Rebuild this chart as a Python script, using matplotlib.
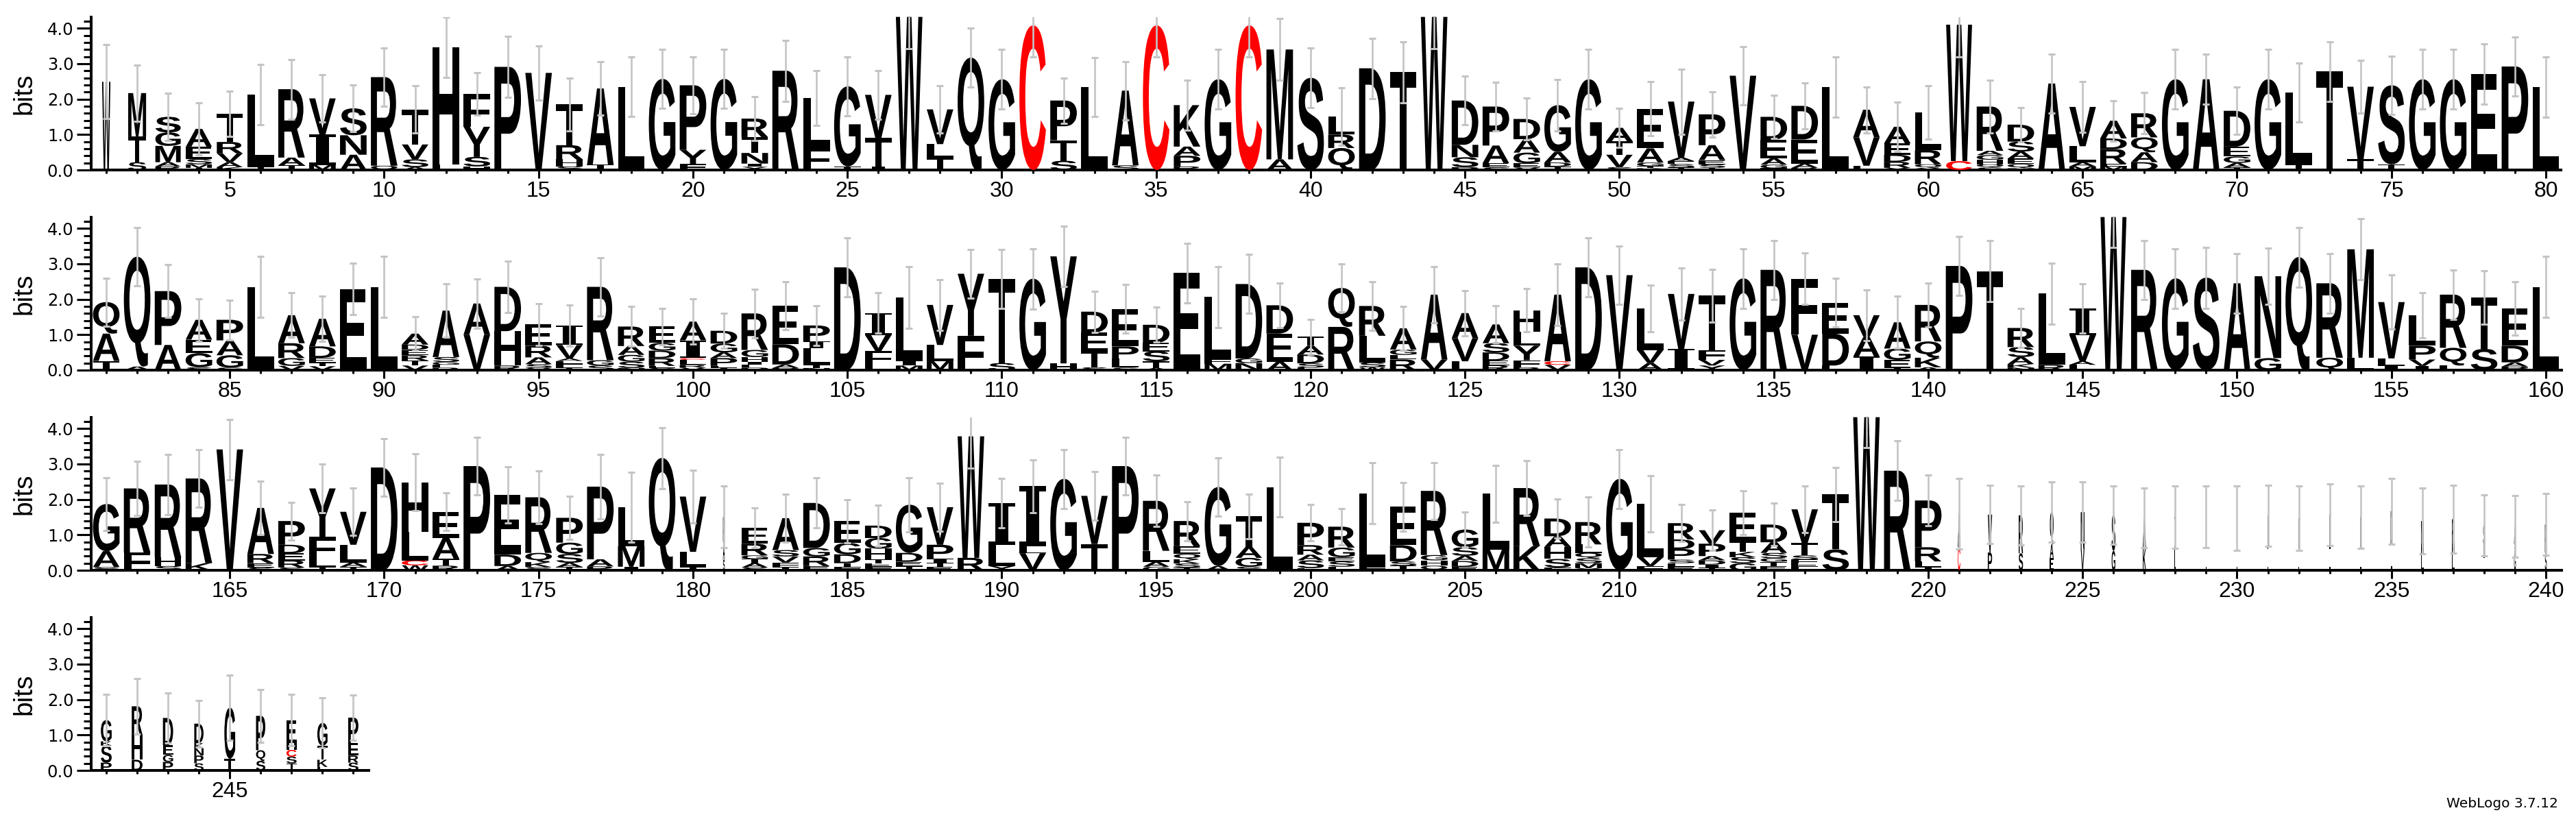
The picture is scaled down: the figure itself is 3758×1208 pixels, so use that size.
import matplotlib
matplotlib.use("Agg")
import matplotlib.pyplot as plt
import numpy as np
from matplotlib.textpath import TextPath
from matplotlib.patches import PathPatch
from matplotlib.font_manager import FontProperties
from matplotlib.transforms import Affine2D

# ---------------- data (letters bottom->top, heights in bits) ----------------
row_starts = [1, 81, 161, 241]
row_ends = [80, 160, 240, 249]

letters_r1 = ["W","STM","RAMGS","TMSEA","KAVRT","TL","TAR","MIV","ANS","QR",
              "ASVT","LH","HSYF","P","V","SHRT","TA","L","G","FYP",
              "G","YINTR","R","FL","TG","ITV","W","TLV","Q","G",
              "C","STP","L","SA","C","RPAK","G","C","AM","S",
              "QRL","D","T","W","PSND","SEAP","VEGAD","TDAG","G","SVTA",
              "KTGAE","TSEAV","TSEAP","V","TGAED","RAED","L","LVA","YRDEA","YQRL",
              "CW","SQHGAR","NQEASD","A","MALV","MERDA","DAQR","G","A","TAGED",
              "G","TL","T","TV","TS","G","G","E","P","L"]
heights_r1 = [[2.49],[0.22,0.73,1.22],[0.1,0.12,0.46,0.38,0.44],[0.06,0.1,0.15,0.35,0.5],[0.08,0.14,0.25,0.32,0.8],[0.1,2.02],[0.13,0.22,1.93],[0.14,0.86,1.02],[0.43,0.55,0.76],[0.12,2.5],
              [0.08,0.22,0.42,0.99],[0.15,3.32],[0.1,0.27,0.85,0.92],[2.91],[2.74],[0.1,0.2,0.4,1.15],[0.15,2.15],[2.35],[2.57],[0.17,0.4,1.82],
              [2.57],[0.09,0.09,0.3,0.45,0.52],[2.8],[0.62,1.41],[0.1,2.26],[0.1,0.8,1.22],[4.32],[0.35,0.38,0.98],[3.17],[2.56],
              [4.08],[0.26,0.58,1.12],[2.34],[0.13,2.11],[4.08],[0.1,0.3,0.26,1.17],[2.56],[4.08],[0.3,3.1],[2.6],
              [0.62,0.38,0.51],[2.87],[2.76],[4.32],[0.08,0.28,0.35,1.25],[0.07,0.12,0.5,1.1],[0.07,0.12,0.3,0.38,0.57],[0.1,0.11,0.3,1.32],[2.56],[0.08,0.35,0.38,0.38],
              [0.05,0.06,0.1,0.4,1.12],[0.07,0.1,0.08,0.1,1.58],[0.06,0.1,0.12,0.42,0.87],[2.66],[0.05,0.1,0.18,0.52,0.65],[0.06,0.12,0.68,0.95],[2.34],[0.12,0.8,0.78],[0.06,0.17,0.2,0.32,0.47],[0.06,0.1,0.4,1.06],
              [0.25,3.85],[0.07,0.09,0.13,0.13,0.12,1.25],[0.05,0.12,0.15,0.2,0.28,0.48],[2.44],[0.1,0.12,0.45,1.11],[0.1,0.07,0.42,0.3,0.5],[0.22,0.28,0.42,0.68],[2.56],[2.56],[0.07,0.13,0.18,0.28,1.01],
              [2.56],[0.15,2.03],[2.78],[0.3,2.05],[0.16,2.23],[2.56],[2.56],[2.71],[2.92],[2.34]]
err_top_r1 = [3.53,2.96,2.16,1.89,2.23,2.97,3.12,2.68,2.4,3.45,
              2.37,4.32,2.74,3.77,3.5,2.59,3.06,3.19,3.4,3.19,
              3.4,2.06,3.66,2.8,3.19,2.8,5.21,2.37,4.0,3.4,
              4.96,2.6,3.17,3.06,4.96,2.54,3.4,4.96,4.27,3.44,
              2.33,3.72,3.62,5.21,2.65,2.48,2.03,2.56,3.4,1.75,
              2.5,2.85,2.21,3.49,2.11,2.45,3.19,2.35,1.92,2.37,
              5.0,2.54,1.76,3.27,2.5,1.96,2.18,3.4,3.27,2.34,
              3.4,3.01,3.62,3.1,3.22,3.4,3.4,3.56,3.76,3.19]

letters_r2 = ["TAQ","AQ","AP","SGEA","SGAP","L","VGRA","VTEDA","E","L",
              "VTREDA","RLGSA","VA","RHD","VSARE","TFLAVI","SGR","NSGAR","SLRDGE","VRLCIA",
              "TLPAGD","PLIHGR","PADE","NTLIP","D","LFVI","MIL","MLV","FY","ST",
              "G","HY","STED","SLPE","ATSED","E","MFL","NGD","AED","LSDAT",
              "RQ","WSLR","RLGA","VA","LVA","REDSA","RFYLH","VCA","D","V",
              "AVL","IV","YVFT","G","R","VF","LDE","IAV","TEGA","AKQR",
              "P","T","NKASR","RL","LAVI","W","R","G","S","A",
              "GN","Q","QR","LM","ILV","IVPL","LQR","ST","PADE","L"]
heights_r2 = [[0.26,0.77,0.89],[0.1,3.1],[0.71,1.52],[0.08,0.4,0.38,0.56],[0.07,0.35,0.42,0.58],[2.35],[0.12,0.22,0.42,0.79],[0.11,0.09,0.15,0.32,0.78],[2.29],[2.35],
              [0.13,0.14,0.15,0.15,0.15,0.31],[0.07,0.08,0.08,0.14,1.31],[1.0,0.88],[0.13,0.97,1.25],[0.06,0.11,0.19,0.33,0.6],[0.07,0.1,0.09,0.07,0.38,0.55],[0.13,0.15,2.07],[0.06,0.18,0.19,0.25,0.55],[0.06,0.06,0.22,0.21,0.22,0.46],[0.07,0.08,0.14,0.05,0.5,0.53],
              [0.06,0.06,0.22,0.16,0.25,0.36],[0.07,0.08,0.08,0.14,0.2,1.03],[0.06,0.1,0.57,1.09],[0.06,0.1,0.45,0.2,0.45],[2.9],[0.14,0.4,0.45,0.62],[0.13,0.14,1.78],[0.25,0.46,1.13],[0.97,1.75],[0.2,2.38],
              [2.58],[0.19,3.02],[0.08,0.45,0.53,0.59],[0.07,0.25,0.35,1.06],[0.06,0.19,0.28,0.24,0.51],[2.74],[0.18,0.12,1.76],[0.2,0.13,2.1],[0.24,0.79,0.8],[0.07,0.12,0.25,0.25,0.25],
              [1.22,1.1],[0.08,0.14,0.75,0.84],[0.3,0.13,0.15,0.6],[0.3,1.83],[0.25,0.65,0.71],[0.14,0.13,0.23,0.26,0.53],[0.08,0.2,0.41,0.4,0.6],[0.15,0.1,1.88],[2.9],[2.68],
              [0.2,0.37,1.17],[0.6,1.55],[0.13,0.16,0.28,1.53],[2.59],[2.83],[1.0,1.58],[0.13,0.9,0.87],[0.38,0.55,0.62],[0.07,0.22,0.32,0.74],[0.08,0.27,0.46,1.03],
              [2.94],[2.79],[0.07,0.1,0.2,0.28,0.54],[0.15,2.01],[0.15,0.1,0.74,0.75],[4.32],[2.83],[2.59],[2.61],[2.45],
              [0.34,2.31],[3.19],[0.35,2.1],[0.35,3.06],[0.13,0.2,1.59],[0.12,0.18,0.39,0.86],[0.13,0.5,1.5],[0.6,1.45],[0.1,0.12,0.47,1.05],[2.35]]
err_top_r2 = [2.6,4.03,2.97,2.02,1.98,3.21,2.18,2.08,3.02,3.21,
              1.5,2.44,2.58,3.08,1.88,1.84,3.17,1.79,1.75,2.01,
              1.61,2.29,2.5,1.82,3.73,2.18,2.92,2.55,3.41,3.41,
              3.43,4.06,2.23,2.42,1.77,3.58,2.92,3.26,2.46,1.43,
              3.0,2.5,1.79,2.92,2.25,1.81,2.3,3.0,3.73,3.5,
              2.4,2.89,2.84,3.43,3.66,3.31,2.59,2.27,2.08,2.46,
              3.77,3.65,1.74,3.02,2.43,5.17,3.66,3.43,3.47,3.29,
              3.45,4.03,3.29,4.27,2.68,2.19,2.83,2.8,2.5,3.21]

letters_r3 = ["SAG","FR","SHR","KR","V","SERA","SREDP","TLFY","TALV","D",
              "WCLH","RTAE","P","ADE","SKQR","TASGP","RAP","IML","Q","TLV",
              "SAP","SATGRE","TFVSA","ERGD","FTDGE","FETHGD","TEDG","ETIPV","RW","YLI",
              "VLI","G","TV","P","GALR","TSKQER","AG","SGAT","L","LSARP",
              "LSEGR","FL","TSDE","QHGR","EDASG","ML","KR","FSHAD","YMSQLR","G",
              "FVL","ELSPDR","TIDAPV","GSKTE","ETGSAD","LEFSTV","ST","W","R","TLRP",
              "CA","PV","SR","EAQ","VN","GS","KA","LI","LI","LI",
              "LI","LI","LI","LI","LD","LHM","LHR","TIS","GEA","SR"]
heights_r3 = [[0.09,0.45,1.33],[0.5,1.81],[0.12,0.24,2.06],[0.2,2.39],[3.41],[0.08,0.12,0.26,1.3],[0.08,0.2,0.2,0.24,0.67],[0.1,0.2,0.64,1.37],[0.1,0.12,0.5,0.93],[2.9],
              [0.14,0.14,0.8,1.4],[0.13,0.2,0.58,0.74],[2.94],[0.12,0.32,1.69],[0.09,0.14,0.26,1.57],[0.09,0.12,0.25,0.32,0.7],[0.11,0.2,2.05],[0.1,0.58,1.1],[3.17],[0.1,0.42,1.56],
              [0.3,0.5,0.7],[0.08,0.12,0.12,0.1,0.33,0.45],[0.1,0.12,0.17,0.18,0.9],[0.12,0.27,0.24,1.27],[0.1,0.1,0.25,0.32,0.62],[0.1,0.1,0.11,0.3,0.3,0.35],[0.12,0.12,0.25,1.36],[0.1,0.1,0.12,0.4,1.06],[0.35,3.43],[0.12,0.6,1.18],
              [0.48,0.2,1.69],[2.58],[0.74,1.36],[2.94],[0.1,0.14,0.31,1.41],[0.08,0.11,0.12,0.15,0.22,0.71],[0.12,2.23],[0.1,0.25,0.31,0.86],[2.35],[0.06,0.22,0.16,0.27,0.63],
              [0.1,0.15,0.12,0.27,0.59],[0.1,2.07],[0.13,0.12,0.46,1.08],[0.13,0.15,0.15,1.81],[0.1,0.16,0.15,0.24,0.5],[0.58,1.58],[0.68,1.64],[0.08,0.24,0.34,0.3,0.5],[0.06,0.14,0.14,0.15,0.24,0.63],[2.58],
              [0.12,0.25,1.5],[0.1,0.1,0.1,0.3,0.27,0.46],[0.08,0.08,0.12,0.12,0.35,0.38],[0.2,0.17,0.15,0.3,0.8],[0.12,0.12,0.1,0.15,0.3,0.5],[0.1,0.1,0.1,0.12,0.35,0.95],[0.59,1.55],[4.32],[2.81],[0.1,0.15,0.4,1.32],
              [0.65,0.95],[0.5,1.07],[0.48,1.07],[0.35,0.38,0.92],[0.6,1.04],[0.55,1.01],[0.62,0.86],[0.6,0.9],[0.6,0.9],[0.6,0.87],
              [0.6,0.94],[0.6,0.87],[0.6,0.96],[0.6,0.9],[0.7,0.97],[0.45,0.3,0.64],[0.45,0.3,0.69],[0.42,0.3,0.55],[0.5,0.25,0.48],[0.5,0.79]]
err_top_r3 = [2.61,3.07,3.27,3.41,4.26,2.51,1.92,2.99,2.32,3.72,
              3.28,2.18,3.75,2.93,2.81,2.09,3.27,2.77,4.03,2.83,
              2.37,1.76,2.15,2.61,2.0,1.84,2.61,2.45,4.68,2.6,
              3.12,3.41,2.79,3.75,2.69,1.94,3.17,2.15,3.2,1.85,
              1.74,3.03,2.48,3.04,1.65,2.96,3.09,2.02,2.06,3.41,
              2.66,1.85,1.7,2.24,1.89,2.37,2.9,5.17,3.65,2.69,
              2.6,2.39,2.38,2.5,2.49,2.38,2.33,2.38,2.37,2.37,
              2.4,2.37,2.43,2.38,2.6,2.32,2.39,2.13,2.1,2.16]

letters_r4 = ["PSKG","DHR","PGED","SPNKD","TG","SQP","TSCHE","LKTG","SREP"]
heights_r4 = [[0.22,0.48,0.12,0.6],[0.3,0.7,0.81],[0.24,0.2,0.27,0.77],[0.2,0.22,0.2,0.15,0.55],
              [0.33,1.44],[0.27,0.3,0.97],[0.2,0.19,0.19,0.19,0.65],[0.1,0.2,0.4,0.64],[0.22,0.2,0.35,0.72]]
err_top_r4 = [2.15,2.6,2.18,1.98,2.69,2.28,2.15,2.05,2.13]

# stack width as a fraction of the column (columns with gaps are narrower)
default_width = 0.86
stack_width = {1: 0.27, 2: 0.58, 3: 0.82, 4: 0.84, 5: 0.84, 61: 0.84, 146: 0.84,
               181: 0.06, 221: 0.08, 222: 0.14, 223: 0.14, 224: 0.12, 225: 0.12,
               226: 0.12, 227: 0.10, 228: 0.04, 229: 0.04, 230: 0.04, 231: 0.04,
               232: 0.04, 233: 0.04, 234: 0.04, 235: 0.05, 236: 0.08, 237: 0.08,
               238: 0.06, 239: 0.06, 240: 0.06, 241: 0.35, 242: 0.35, 243: 0.33,
               244: 0.30, 245: 0.35, 246: 0.30, 247: 0.33, 248: 0.33, 249: 0.33}

letters_rows = [letters_r1, letters_r2, letters_r3, letters_r4]
heights_rows = [heights_r1, heights_r2, heights_r3, heights_r4]
errtop_rows = [err_top_r1, err_top_r2, err_top_r3, err_top_r4]

# ---------------- layout ----------------
W_PX, H_PX, DPI = 3758, 1208, 100
COL_PX = 45.05
LEFT_PX = 132.5
BASELINES_PX = [248, 540, 832, 1124]   # from top
YMAX = 4.32
AX_H_PX = YMAX * 51.7

fig = plt.figure(figsize=(W_PX / DPI, H_PX / DPI), dpi=DPI)
fig.patch.set_facecolor("white")

fp_logo = FontProperties(family=["Liberation Sans", "DejaVu Sans"], weight="bold")
fp_serif = FontProperties(family=["DejaVu Serif"], weight="bold")
_cache = {}


def glyph(ch):
    if ch not in _cache:
        prop = fp_serif if ch == "I" else fp_logo
        p = TextPath((0, 0), ch, size=1, prop=prop)
        _cache[ch] = (p, p.get_extents())
    return _cache[ch]


def draw_letter(ax, ch, xc, y0, w, h):
    p, ext = glyph(ch)
    t = (Affine2D().translate(-ext.x0, -ext.y0)
         .scale(w / ext.width, h / ext.height)
         .translate(xc - w / 2.0, y0))
    color = "#ff0000" if ch == "C" else "black"
    ax.add_patch(PathPatch(t.transform_path(p), facecolor=color, edgecolor="none",
                           lw=0, zorder=3, clip_on=False))


for r in range(4):
    s, e = row_starts[r], row_ends[r]
    n = e - s + 1
    left = LEFT_PX / W_PX
    width = n * COL_PX / W_PX
    bottom = (H_PX - BASELINES_PX[r]) / H_PX
    height = AX_H_PX / H_PX
    ax = fig.add_axes([left, bottom, width, height])
    ax.set_xlim(s - 0.5, e + 0.5)
    ax.set_ylim(0, YMAX)
    ax.set_facecolor("none")

    positions = np.arange(s, e + 1)
    totals = []
    for i, pos in enumerate(positions):
        lets = letters_rows[r][i]
        hs = heights_rows[r][i]
        w = stack_width.get(int(pos), default_width)
        y = 0.0
        for ch, h in zip(lets, hs):
            draw_letter(ax, ch, pos, y, w, h)
            y += h
        totals.append(y)
    totals = np.array(totals)
    errs = np.maximum(np.array(errtop_rows[r]) - totals, 0.0)
    ax.errorbar(positions, totals, yerr=errs, fmt="none", ecolor="#c4c4c4",
                elinewidth=1.9, capsize=3.3, capthick=2.2, zorder=4)

    for sp in ["top", "right"]:
        ax.spines[sp].set_visible(False)
    for sp in ["left", "bottom"]:
        ax.spines[sp].set_linewidth(2.9)
        ax.spines[sp].set_color("black")

    # y ticks
    ax.set_yticks([0, 1, 2, 3, 4])
    ax.set_yticklabels(["0.0", "1.0", "2.0", "3.0", "4.0"])
    minor_y = [round(v, 1) for v in np.arange(0.2, 4.21, 0.2) if abs(v - round(v)) > 1e-6]
    ax.set_yticks(minor_y, minor=True)
    # x ticks
    major_x = [p for p in positions if p % 5 == 0]
    ax.set_xticks(major_x)
    ax.set_xticklabels([str(p) for p in major_x])
    ax.set_xticks([p for p in positions if p % 5 != 0], minor=True)

    ax.tick_params(axis="y", which="major", length=15, width=2.2, pad=3,
                   labelsize=17.5, direction="out")
    ax.tick_params(axis="y", which="minor", length=8, width=2.2, direction="out")
    ax.tick_params(axis="x", which="major", length=8.6, width=2.2, pad=3,
                   labelsize=23, direction="out")
    ax.tick_params(axis="x", which="minor", length=3.6, width=2.2, direction="out")
    for lab in ax.get_yticklabels():
        lab.set_fontfamily("DejaVu Sans")
    for lab in ax.get_xticklabels():
        lab.set_fontfamily(["Liberation Sans", "DejaVu Sans"])

    yc = (H_PX - BASELINES_PX[r] + AX_H_PX / 2.0) / H_PX
    fig.text(35 / W_PX, yc, "bits", rotation=90, ha="center", va="center",
             fontsize=28, family=["Liberation Sans", "DejaVu Sans"])

fig.text(3732 / W_PX, (H_PX - 1178) / H_PX, "WebLogo 3.7.12", ha="right",
         va="baseline", fontsize=14.5, family="DejaVu Sans")

fig.savefig("out.png", dpi=DPI, facecolor="white")
